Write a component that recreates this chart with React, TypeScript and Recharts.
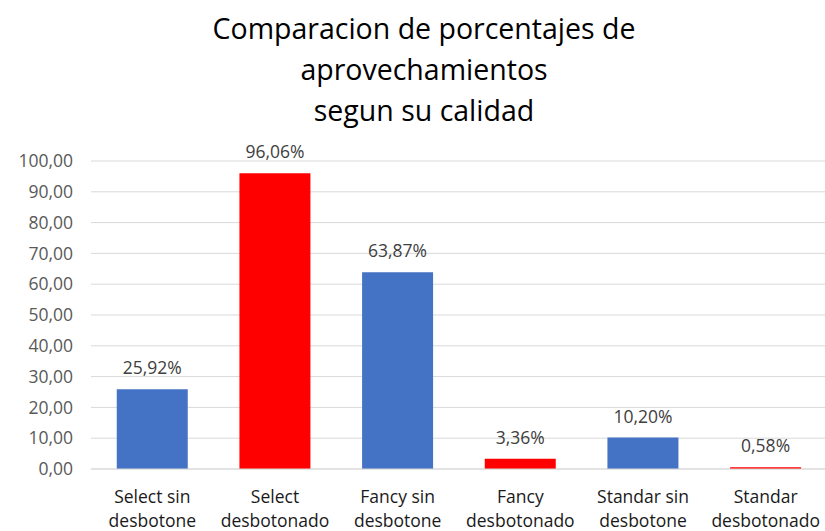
import { BarChart, Bar, XAxis, YAxis, CartesianGrid, LabelList, Cell } from "recharts"

// ── Data ──────────────────────────────────────────────────────────────────────

const categories = [
  "Select sin\ndesbotone",
  "Select\ndesbotonado",
  "Fancy sin\ndesbotone",
  "Fancy\ndesbotonado",
  "Standar sin\ndesbotone",
  "Standar\ndesbotonado",
]
const percentages = [25.92, 96.06, 63.87, 3.36, 10.2, 0.58]
const barColors = ["#4472C4", "#FF0000", "#4472C4", "#FF0000", "#4472C4", "#FF0000"]
const yTicks = [0, 10, 20, 30, 40, 50, 60, 70, 80, 90, 100]
const titleLines = ["Comparacion de porcentajes de", "aprovechamientos", "segun su calidad"]

const data = categories.map((name, i) => ({ name, value: percentages[i] }))

const FONT = "'Open Sans', 'Noto Sans', sans-serif"
const TXT = 17.5

const fmtComma = (n: number) => n.toFixed(2).replace(".", ",")

function CategoryTick({ x, y, payload }: { x?: number; y?: number; payload?: { value: string } }) {
  const lines = (payload?.value ?? "").split("\n")
  return (
    <g transform={`translate(${x},${y})`}>
      {lines.map((l, i) => (
        <text key={i} x={0} y={26 + i * 24} textAnchor="middle" fontSize={TXT} fill="#1a1a1a" fontFamily={FONT}>
          {l}
        </text>
      ))}
    </g>
  )
}

export default function App() {
  return (
    <div style={{ position: "absolute", left: 0, top: 0, width: 825, height: 531, background: "#fff", fontFamily: FONT }}>
      <div style={{ position: "absolute", left: 0, top: 8, width: 848, textAlign: "center", fontSize: 28.5, lineHeight: "41px", color: "#000" }}>
        {titleLines.map((t) => (
          <div key={t}>{t}</div>
        ))}
      </div>
      <BarChart
        width={827}
        height={531}
        data={data}
        margin={{ top: 161, right: 0, bottom: 0, left: 0 }}
        barCategoryGap="21%"
      >
        <CartesianGrid vertical={false} stroke="#d9d9d9" strokeWidth={1} />
        <XAxis
          dataKey="name"
          interval={0}
          height={62}
          axisLine={{ stroke: "#d9d9d9" }}
          tickLine={false}
          tick={<CategoryTick />}
        />
        <YAxis
          domain={[0, 100]}
          ticks={yTicks}
          width={91}
          axisLine={false}
          tickLine={false}
          tickMargin={12}
          tickFormatter={fmtComma}
          tick={{ fontSize: TXT, fill: "#595959", fontFamily: FONT }}
        />
        <Bar dataKey="value" isAnimationActive={false}>
          {data.map((_, i) => (
            <Cell key={i} fill={barColors[i]} />
          ))}
          <LabelList
            dataKey="value"
            position="top"
            offset={15}
            formatter={(v: number) => `${fmtComma(v)}%`}
            style={{ fontSize: TXT, fill: "#404040", fontFamily: FONT }}
          />
        </Bar>
      </BarChart>
    </div>
  )
}
